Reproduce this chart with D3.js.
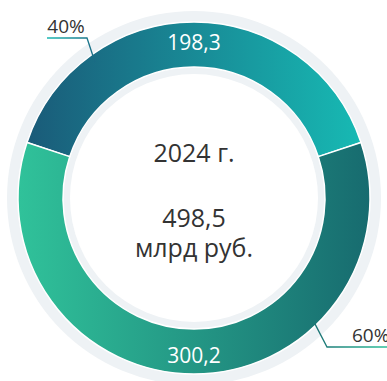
<!DOCTYPE html>
<html>
<head>
<meta charset="utf-8">
<script src="https://cdn.jsdelivr.net/npm/d3@7"></script>
<style>
  html, body { margin: 0; padding: 0; background: #fff; }
  svg { display: block; }
  text { font-family: "Open Sans", "Noto Sans", sans-serif; }
</style>
</head>
<body>
<div id="chart"></div>
<script>
// Revenue split, 2024 (billion rubles)
const categories = ["part A", "part B"];
const values = [198.3, 300.2];
const valueLabels = ["198,3", "300,2"];
const shareLabels = ["40%", "60%"];
const centerLines = ["2024 г.", "498,5", "млрд руб."];

const W = 387, H = 381;
const cx = 194, cy = 198;
const rOuter = 176, rInner = 131;
const rTrackOuter = 187, rTrackInner = 124;

const svg = d3.select("#chart").append("svg")
  .attr("width", W).attr("height", H);

const defs = svg.append("defs");
// segment gradients run left to right across the ring (local coordinates)
const grads = [
  ["#1a5877", "#17bcb5"],
  ["#30c29a", "#176b6f"]
];
grads.forEach((c, i) => {
  const lg = defs.append("linearGradient")
    .attr("id", "seg" + i)
    .attr("gradientUnits", "userSpaceOnUse")
    .attr("x1", -rOuter).attr("x2", rOuter)
    .attr("y1", 0).attr("y2", 0);
  lg.append("stop").attr("offset", "0%").attr("stop-color", c[0]);
  lg.append("stop").attr("offset", "100%").attr("stop-color", c[1]);
});
const lineGradA = defs.append("linearGradient").attr("id", "leadA")
  .attr("gradientUnits", "userSpaceOnUse")
  .attr("x1", 47).attr("x2", 95).attr("y1", 0).attr("y2", 0);
lineGradA.append("stop").attr("offset", "0%").attr("stop-color", "#1cb8b2");
lineGradA.append("stop").attr("offset", "100%").attr("stop-color", "#1a6a84");
const lineGradB = defs.append("linearGradient").attr("id", "leadB")
  .attr("gradientUnits", "userSpaceOnUse")
  .attr("x1", 318).attr("x2", 387).attr("y1", 0).attr("y2", 0);
lineGradB.append("stop").attr("offset", "0%").attr("stop-color", "#1b7474");
lineGradB.append("stop").attr("offset", "100%").attr("stop-color", "#2bbf9a");

const g = svg.append("g").attr("transform", `translate(${cx},${cy})`);

// background track
g.append("path")
  .attr("d", d3.arc().innerRadius(rTrackInner).outerRadius(rTrackOuter)
    .startAngle(0).endAngle(2 * Math.PI)())
  .attr("fill", "#eef2f5");

const total = d3.sum(values);
const half = Math.PI * values[0] / total;
const pie = d3.pie().sort(null).value(d => d)
  .startAngle(-half).endAngle(2 * Math.PI - half);
const arcs = pie(values);
const arc = d3.arc().innerRadius(rInner).outerRadius(rOuter);

g.selectAll("path.seg").data(arcs).join("path")
  .attr("class", "seg")
  .attr("d", arc)
  .attr("fill", (d, i) => `url(#seg${i})`)
  .attr("stroke", "#fff")
  .attr("stroke-width", 1.5);

// values inside the ring
const labelArc = d3.arc().innerRadius(rInner + 3).outerRadius(rOuter + 3);
g.selectAll("text.val").data(arcs).join("text")
  .attr("class", "val")
  .attr("x", d => labelArc.centroid(d)[0])
  .attr("y", d => labelArc.centroid(d)[1])
  .attr("text-anchor", "middle")
  .attr("dominant-baseline", "central")
  .attr("fill", "#fff")
  .attr("font-size", 21)
  .text((d, i) => valueLabels[i]);

// center text
const center = g.append("text").attr("text-anchor", "middle")
  .attr("fill", "#333").attr("font-size", 25);
center.append("tspan").attr("x", 0).attr("y", -36).text(centerLines[0]);
center.append("tspan").attr("x", 0).attr("y", 29).text(centerLines[1]);
center.append("tspan").attr("x", 0).attr("y", 59).text(centerLines[2]);

// share callouts
const pA = d3.pointRadial(-0.63, 168);
svg.append("polyline")
  .attr("points", [[47, 38], [87, 38], [cx + pA[0], cy + pA[1]]].map(p => p.join(",")).join(" "))
  .attr("fill", "none").attr("stroke", "url(#leadA)").attr("stroke-width", 1.3);
svg.append("text").attr("x", 66).attr("y", 33)
  .attr("text-anchor", "middle").attr("fill", "#333").attr("font-size", 19)
  .text(shareLabels[0]);

const pB = d3.pointRadial(2.375, 174);
svg.append("polyline")
  .attr("points", [[cx + pB[0], cy + pB[1]], [327, 347], [387, 347]].map(p => p.join(",")).join(" "))
  .attr("fill", "none").attr("stroke", "url(#leadB)").attr("stroke-width", 1.3);
svg.append("text").attr("x", 352).attr("y", 342)
  .attr("text-anchor", "start").attr("fill", "#333").attr("font-size", 19)
  .text(shareLabels[1]);
</script>
</body>
</html>
